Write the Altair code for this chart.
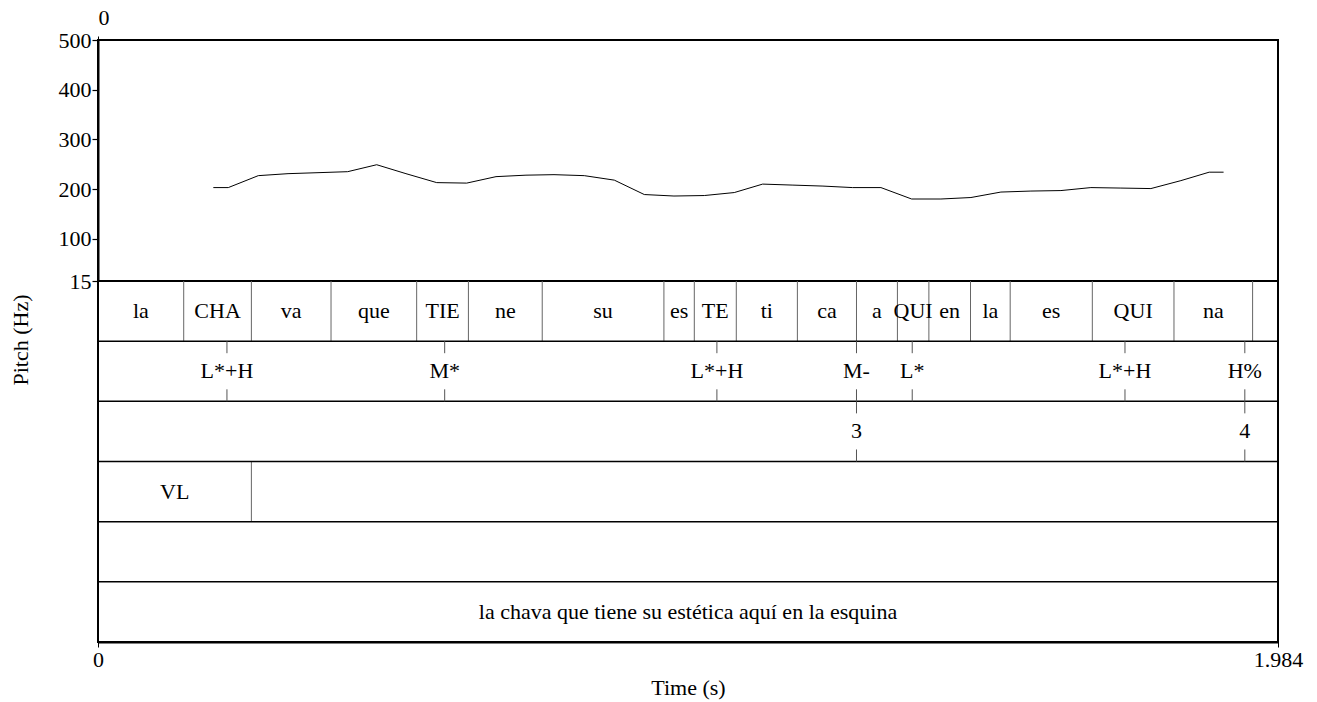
import altair as alt
import pandas as pd

T_END = 1.984
FONT = "Liberation Serif, serif"
FS = 22

# F0 track: time (s) and pitch (Hz)
pitch_time = [0.1939, 0.2191, 0.2695, 0.3195, 0.3699, 0.4198, 0.4686, 0.5178,
              0.5695, 0.6199, 0.6692, 0.7196, 0.7667, 0.8176, 0.8681, 0.9185,
              0.9684, 1.0194, 1.0698, 1.1175, 1.1684, 1.2189, 1.2688, 1.3164,
              1.3680, 1.4172, 1.4677, 1.5181, 1.5685, 1.6190, 1.6694, 1.7198,
              1.7703, 1.8207, 1.8683, 1.8925]
pitch_hz = [203, 203, 227, 231, 233, 235, 249, 231,
            213, 212, 225, 228, 229, 227, 218, 189,
            186, 187, 193, 210, 208, 206, 203, 203,
            180, 180, 183, 194, 196, 197, 203, 202,
            201, 217, 234, 234]

# Tier 1: syllables (interval boundaries in s)
syll_bounds = [0.0, 0.1441, 0.2579, 0.3918, 0.5358, 0.6228, 0.7469, 0.9515,
               1.0026, 1.0732, 1.1759, 1.2753, 1.3441, 1.3970, 1.4670, 1.5337,
               1.6718, 1.8091, 1.9413, T_END]
syll_labels = ["la", "CHA", "va", "que", "TIE", "ne", "su", "es", "TE", "ti",
               "ca", "a", "QUI", "en", "la", "es", "QUI", "na", ""]

# Tier 2: tones (point tier)
tone_time = [0.2168, 0.5829, 1.0406, 1.2753, 1.3690, 1.7267, 1.9282]
tone_labels = ["L*+H", "M*", "L*+H", "M-", "L*", "L*+H", "H%"]

# Tier 3: break indices (point tier)
break_time = [1.2753, 1.9282]
break_labels = ["3", "4"]

# Tier 4: VL interval tier
vl_bounds = [0.0, 0.2579, T_END]
vl_labels = ["VL", ""]

# Tier 6: orthographic sentence
sent_bounds = [0.0, T_END]
sent_labels = ["la chava que tiene su estética aquí en la esquina"]

N_TIERS = 6

# ---- build tables ----
pitch_df = pd.DataFrame({"t": pitch_time, "hz": pitch_hz})

interval_rows, boundary_rows = [], []
for tier, bounds, labels in [(0, syll_bounds, syll_labels),
                             (3, vl_bounds, vl_labels),
                             (5, sent_bounds, sent_labels)]:
    for i, lab in enumerate(labels):
        interval_rows.append({"mid": (bounds[i] + bounds[i + 1]) / 2,
                              "label": lab, "y": tier + 0.5})
    for b in bounds[1:-1]:
        boundary_rows.append({"t": b, "y": tier, "y2": tier + 1})
intervals_df = pd.DataFrame(interval_rows)
boundaries_df = pd.DataFrame(boundary_rows)

point_rows, tick_rows = [], []
for tier, times, labels in [(1, tone_time, tone_labels),
                            (2, break_time, break_labels)]:
    for t, lab in zip(times, labels):
        point_rows.append({"t": t, "label": lab, "y": tier + 0.5})
        tick_rows.append({"t": t, "y": tier, "y2": tier + 0.2})
        tick_rows.append({"t": t, "y": tier + 0.8, "y2": tier + 1})
points_df = pd.DataFrame(point_rows)
ticks_df = pd.DataFrame(tick_rows)

dividers_df = pd.DataFrame({"y": list(range(1, N_TIERS))})

W = 1180
H_PITCH = 241
H_TIERS = 361

x_scale = alt.Scale(domain=[0, T_END], nice=False, zero=False)
tier_y = alt.Scale(domain=[0, N_TIERS], reverse=True, nice=False, zero=False)

# ---- pitch panel ----
pitch = alt.Chart(pitch_df).mark_line(color="black", strokeWidth=1).encode(
    x=alt.X("t:Q", scale=x_scale,
            axis=alt.Axis(orient="top", values=[0], title=None, domain=False,
                          tickSize=4, tickColor="black", labelFont=FONT,
                          labelFontSize=FS, labelColor="black",
                          labelPadding=7, grid=False, format=".4~g")),
    y=alt.Y("hz:Q", scale=alt.Scale(domain=[15, 500], nice=False, zero=False),
            axis=alt.Axis(values=[15, 100, 200, 300, 400, 500], title=None,
                          tickSize=6, tickColor="black", tickWidth=1.2,
                          domainColor="black", domainWidth=2,
                          labelFont=FONT, labelFontSize=FS, labelColor="black",
                          labelPadding=1, grid=False, labelFlush=False)),
).properties(width=W, height=H_PITCH)

# ---- annotation tiers ----
x_tier = alt.X("t:Q", scale=x_scale, title="Time (s)",
               axis=alt.Axis(values=[0, T_END], format=".4~g", tickSize=5,
                             tickColor="black", domainColor="black",
                             domainWidth=2, labelFont=FONT, labelFontSize=FS,
                             labelColor="black", labelPadding=2,
                             labelFlush=False, grid=False,
                             titleFont=FONT, titleFontSize=FS,
                             titleFontWeight="normal", titleColor="black",
                             titlePadding=7))

dividers = alt.Chart(dividers_df).mark_rule(color="black", strokeWidth=1.5).encode(
    y=alt.Y("y:Q", scale=tier_y, axis=None))

boundaries = alt.Chart(boundaries_df).mark_rule(color="#666666", strokeWidth=1).encode(
    x=x_tier,
    y=alt.Y("y:Q", scale=tier_y, axis=None),
    y2="y2:Q")

ticks = alt.Chart(ticks_df).mark_rule(color="#555555", strokeWidth=1).encode(
    x=alt.X("t:Q", scale=x_scale),
    y=alt.Y("y:Q", scale=tier_y, axis=None),
    y2="y2:Q")

interval_text = alt.Chart(intervals_df).mark_text(
    font=FONT, fontSize=FS, color="black", align="center", baseline="middle"
).encode(
    x=alt.X("mid:Q", scale=x_scale),
    y=alt.Y("y:Q", scale=tier_y, axis=None),
    text="label:N")

point_text = alt.Chart(points_df).mark_text(
    font=FONT, fontSize=FS, color="black", align="center", baseline="middle"
).encode(
    x=alt.X("t:Q", scale=x_scale),
    y=alt.Y("y:Q", scale=tier_y, axis=None),
    text="label:N")

y_title = alt.Chart(pd.DataFrame({"label": ["Pitch (Hz)"]})).mark_text(
    font=FONT, fontSize=FS, color="black", angle=270,
    align="center", baseline="middle"
).encode(
    x=alt.value(-77),
    y=alt.value(59),
    text="label:N")

tiers = alt.layer(boundaries, dividers, ticks, interval_text, point_text,
                  y_title).properties(width=W, height=H_TIERS)

chart = alt.vconcat(pitch, tiers, spacing=0, bounds="flush").configure(
    font=FONT, padding={"left": 9, "top": 5, "right": 5, "bottom": 5}
).configure_view(stroke="black", strokeWidth=2)

chart.save("out.html", embed_options={"renderer": "svg", "actions": False})
